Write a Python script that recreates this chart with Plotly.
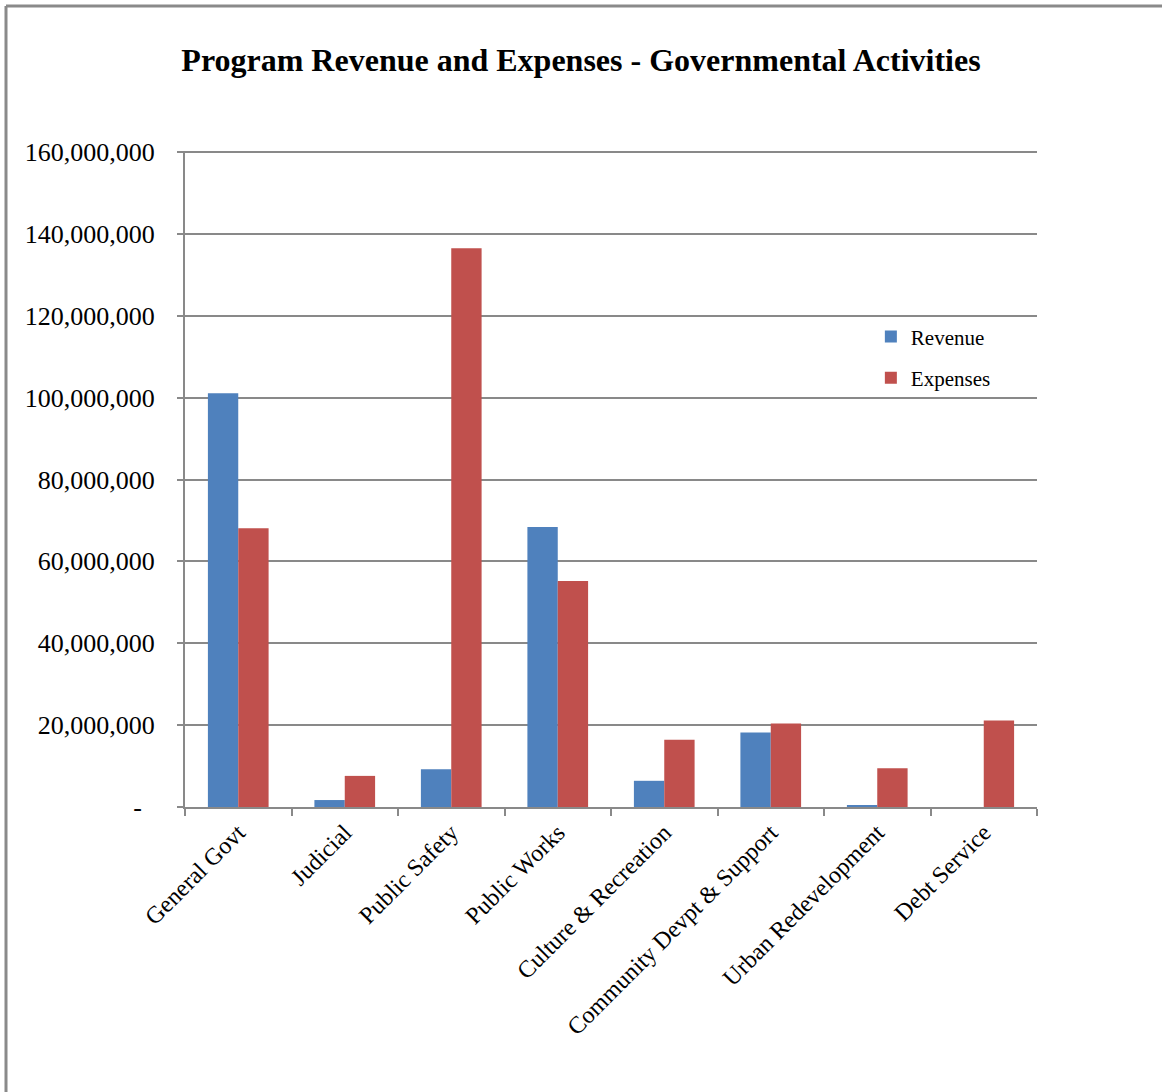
import plotly.graph_objects as go

categories = ["General Govt", "Judicial", "Public Safety", "Public Works",
              "Culture & Recreation", "Community Devpt & Support",
              "Urban Redevelopment", "Debt Service"]
revenue = [101100000, 1700000, 9200000, 68400000, 6400000, 18200000, 400000, 0]
expenses = [68100000, 7600000, 136500000, 55200000, 16400000, 20400000, 9450000, 21100000]
ytick_vals = [0, 20000000, 40000000, 60000000, 80000000, 100000000, 120000000, 140000000, 160000000]
ytick_text = ["-\u00a0\u00a0", "20,000,000", "40,000,000", "60,000,000", "80,000,000",
              "100,000,000", "120,000,000", "140,000,000", "160,000,000"]

FONT = "Liberation Serif, Times New Roman, serif"
GRID = "#898989"

fig = go.Figure()
fig.add_trace(go.Bar(x=categories, y=revenue, name="Revenue", marker_color="#4F81BD",
                     marker_line=dict(width=0), legendgroup="r"))
fig.add_trace(go.Bar(x=categories, y=expenses, name="Expenses", marker_color="#C0504D",
                     marker_line=dict(width=0), legendgroup="e"))

fig.update_layout(
    width=1162, height=1092,
    margin=dict(l=185, r=125, t=151, b=285),
    paper_bgcolor="white", plot_bgcolor="white",
    font=dict(family=FONT, color="black"),
    title=dict(text="<b>Program Revenue and Expenses - Governmental Activities</b>",
               x=0.5, xanchor="center", y=1 - 60 / 1092, yanchor="middle",
               font=dict(family=FONT, size=32, color="black")),
    barmode="group", bargap=0.43, bargroupgap=0,
    showlegend=True,
    legend=dict(x=0.805, xanchor="left", y=0.748, yanchor="top",
                font=dict(family=FONT, size=21), bgcolor="rgba(0,0,0,0)",
                traceorder="grouped", tracegroupgap=11,
                itemwidth=30),
    xaxis=dict(type="category", tickangle=-45, tickfont=dict(family=FONT, size=24),
               showline=True, linecolor=GRID, linewidth=2,
               ticks="outside", ticklen=7, tickwidth=2, tickcolor=GRID,
               tickson="boundaries", showgrid=False, range=[-0.5, 7.5]),
    yaxis=dict(range=[0, 160250000], tickvals=ytick_vals, ticktext=ytick_text,
               tickfont=dict(family=FONT, size=26),
               showline=True, linecolor=GRID, linewidth=2,
               ticks="outside", ticklen=6, tickwidth=2, tickcolor=GRID,
               showgrid=True, gridcolor=GRID, gridwidth=2, zeroline=False,
               ticklabelstandoff=17),
    shapes=[dict(type="line", xref="paper", yref="paper",
                 x0=(6 - 185) / 852, x1=(6 - 185) / 852, y0=(807 - 6) / 656, y1=(807 - 1200) / 656,
                 line=dict(color="#8a8a8a", width=3)),
            dict(type="line", xref="paper", yref="paper",
                 x0=(6 - 185) / 852, x1=(1300 - 185) / 852, y0=(807 - 6) / 656, y1=(807 - 6) / 656,
                 line=dict(color="#8a8a8a", width=3))],
)

fig.write_html("out.html")
